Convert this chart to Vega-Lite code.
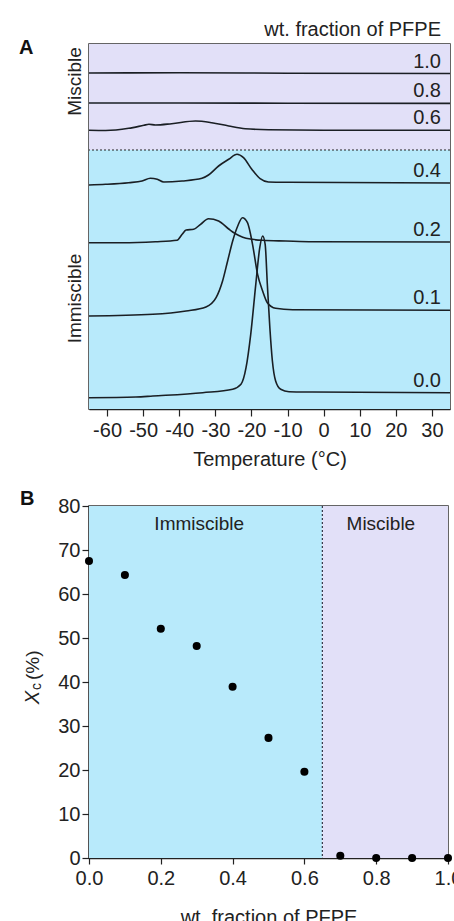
{
  "$schema": "https://vega.github.io/schema/vega-lite/v6.json",
  "background": "white",
  "padding": {"left": 18, "top": 18, "right": 0, "bottom": 0},
  "spacing": 97,
  "bounds": "flush",
  "config": {
    "font": "Liberation Sans",
    "view": {"stroke": "#333", "strokeWidth": 1.5},
    "axis": {
      "labelFont": "Liberation Sans", "labelFontSize": 20, "labelColor": "#222", "labelFlush": false,
      "titleFont": "Liberation Sans", "titleFontSize": 20, "titleFontWeight": "normal", "titleColor": "#222",
      "domainColor": "#222", "tickColor": "#222", "grid": false, "domainWidth": 1.5, "tickWidth": 1.2
    }
  },
  "datasets": {
    "dsc": [
      {"f": "1.0", "T": -65, "hf": 336}, {"f": "1.0", "T": -40, "hf": 336.2}, {"f": "1.0", "T": -10, "hf": 335.8}, {"f": "1.0", "T": 35, "hf": 335.5},
      {"f": "0.8", "T": -65, "hf": 306}, {"f": "0.8", "T": -40, "hf": 306}, {"f": "0.8", "T": -10, "hf": 305.8}, {"f": "0.8", "T": 35, "hf": 305.6},
      {"f": "0.6", "T": -65, "hf": 278.7}, {"f": "0.6", "T": -60.4, "hf": 278.5}, {"f": "0.6", "T": -54, "hf": 280.7}, {"f": "0.6", "T": -49.8, "hf": 283.7},
      {"f": "0.6", "T": -48.4, "hf": 284.7}, {"f": "0.6", "T": -46.6, "hf": 284}, {"f": "0.6", "T": -42.1, "hf": 285.3}, {"f": "0.6", "T": -35.5, "hf": 288},
      {"f": "0.6", "T": -31, "hf": 286.3}, {"f": "0.6", "T": -26.3, "hf": 283}, {"f": "0.6", "T": -21.7, "hf": 280.3}, {"f": "0.6", "T": -15.3, "hf": 279.3},
      {"f": "0.6", "T": 0, "hf": 278.8}, {"f": "0.6", "T": 35, "hf": 278.7},
      {"f": "0.4", "T": -65, "hf": 224}, {"f": "0.4", "T": -60.4, "hf": 224.7}, {"f": "0.4", "T": -54, "hf": 226.3}, {"f": "0.4", "T": -50.3, "hf": 228},
      {"f": "0.4", "T": -48, "hf": 230.7}, {"f": "0.4", "T": -46.1, "hf": 229.7}, {"f": "0.4", "T": -44.3, "hf": 227}, {"f": "0.4", "T": -39.2, "hf": 228},
      {"f": "0.4", "T": -33.7, "hf": 230.7}, {"f": "0.4", "T": -31.9, "hf": 234}, {"f": "0.4", "T": -29.1, "hf": 243}, {"f": "0.4", "T": -26.3, "hf": 249.7},
      {"f": "0.4", "T": -24, "hf": 254.7}, {"f": "0.4", "T": -22.2, "hf": 251.3}, {"f": "0.4", "T": -19.9, "hf": 239.7}, {"f": "0.4", "T": -17.6, "hf": 230.3},
      {"f": "0.4", "T": -15.3, "hf": 227}, {"f": "0.4", "T": -9.8, "hf": 226.7}, {"f": "0.4", "T": 35, "hf": 226},
      {"f": "0.2", "T": -65, "hf": 166.3}, {"f": "0.2", "T": -55.9, "hf": 166.3}, {"f": "0.2", "T": -46.6, "hf": 167.3}, {"f": "0.2", "T": -40.6, "hf": 168.7},
      {"f": "0.2", "T": -39.2, "hf": 174.7}, {"f": "0.2", "T": -38.1, "hf": 179}, {"f": "0.2", "T": -36, "hf": 179.7}, {"f": "0.2", "T": -34.1, "hf": 184.7},
      {"f": "0.2", "T": -31.9, "hf": 190.3}, {"f": "0.2", "T": -29.1, "hf": 188}, {"f": "0.2", "T": -26.3, "hf": 180}, {"f": "0.2", "T": -25.2, "hf": 177},
      {"f": "0.2", "T": -23.5, "hf": 173.5}, {"f": "0.2", "T": -21.5, "hf": 170.7}, {"f": "0.2", "T": -16.9, "hf": 168.7}, {"f": "0.2", "T": -10.5, "hf": 168},
      {"f": "0.2", "T": -3.1, "hf": 167.3}, {"f": "0.2", "T": 35, "hf": 167},
      {"f": "0.1", "T": -65, "hf": 93}, {"f": "0.1", "T": -47.3, "hf": 94.7}, {"f": "0.1", "T": -38.1, "hf": 98}, {"f": "0.1", "T": -32.6, "hf": 102},
      {"f": "0.1", "T": -29.8, "hf": 111.3}, {"f": "0.1", "T": -28, "hf": 128}, {"f": "0.1", "T": -26.6, "hf": 148}, {"f": "0.1", "T": -25.2, "hf": 168},
      {"f": "0.1", "T": -23.8, "hf": 183}, {"f": "0.1", "T": -22.5, "hf": 191.3}, {"f": "0.1", "T": -21.1, "hf": 186.3}, {"f": "0.1", "T": -19.7, "hf": 164.7},
      {"f": "0.1", "T": -18.3, "hf": 134.7}, {"f": "0.1", "T": -16.9, "hf": 118}, {"f": "0.1", "T": -15.6, "hf": 106.3}, {"f": "0.1", "T": -13.3, "hf": 100.7},
      {"f": "0.1", "T": -8.6, "hf": 99.3}, {"f": "0.1", "T": 35, "hf": 98.7},
      {"f": "0.0", "T": -65, "hf": 11.3}, {"f": "0.0", "T": -52, "hf": 12}, {"f": "0.0", "T": -47.3, "hf": 13}, {"f": "0.0", "T": -33.5, "hf": 16.3},
      {"f": "0.0", "T": -25.2, "hf": 19.7}, {"f": "0.0", "T": -22.9, "hf": 24.7}, {"f": "0.0", "T": -21.5, "hf": 41.3}, {"f": "0.0", "T": -20.2, "hf": 74.7},
      {"f": "0.0", "T": -18.8, "hf": 124.7}, {"f": "0.0", "T": -17.7, "hf": 161.3}, {"f": "0.0", "T": -16.9, "hf": 173}, {"f": "0.0", "T": -16.2, "hf": 164.7},
      {"f": "0.0", "T": -15.6, "hf": 124.7}, {"f": "0.0", "T": -14.9, "hf": 81.3}, {"f": "0.0", "T": -14.2, "hf": 48}, {"f": "0.0", "T": -13.3, "hf": 28},
      {"f": "0.0", "T": -11.9, "hf": 19.7}, {"f": "0.0", "T": -9.6, "hf": 17.3}, {"f": "0.0", "T": -3.1, "hf": 17}, {"f": "0.0", "T": 35, "hf": 16.3}
    ],
    "bandsA": [
      {"region": "Miscible", "y0": 259, "y1": 365},
      {"region": "Immiscible", "y0": 0, "y1": 259}
    ],
    "xc": [
      {"w": 0.0, "xc": 67.5}, {"w": 0.1, "xc": 64.3}, {"w": 0.2, "xc": 52.1}, {"w": 0.3, "xc": 48.2},
      {"w": 0.4, "xc": 38.9}, {"w": 0.5, "xc": 27.3}, {"w": 0.6, "xc": 19.6}, {"w": 0.7, "xc": 0.5},
      {"w": 0.8, "xc": 0}, {"w": 0.9, "xc": 0}, {"w": 1.0, "xc": 0}
    ],
    "bandsB": [
      {"region": "Immiscible", "x0": 0, "x1": 0.65, "lx": 0.307},
      {"region": "Miscible", "x0": 0.65, "x1": 1, "lx": 0.813}
    ]
  },
  "vconcat": [
    {
      "width": 361,
      "height": 365,
      "layer": [
        {
          "data": {"name": "bandsA"},
          "mark": {"type": "rect"},
          "encoding": {
            "y": {"field": "y0", "type": "quantitative", "scale": {"domain": [0, 365], "nice": false},
                  "axis": {"values": [328, 111], "labelExpr": "datum.value > 200 ? 'Miscible' : 'Immiscible'", "domain": false, "ticks": false, "tickSize": 0,
                           "labelAngle": 270, "labelAlign": "center", "labelBaseline": "alphabetic", "labelPadding": 9, "labelFontSize": 19, "title": null}},
            "y2": {"field": "y1"},
            "color": {"field": "region", "type": "nominal", "scale": {"domain": ["Miscible", "Immiscible"], "range": ["#E2E0F8", "#B8EAFB"]}, "legend": null}
          }
        },
        {
          "data": {"name": "bandsA"},
          "transform": [{"filter": "datum.region == 'Immiscible'"}],
          "mark": {"type": "rule", "strokeDash": [2, 2], "color": "#222", "strokeWidth": 1.2},
          "encoding": {"y": {"field": "y1", "type": "quantitative"}}
        },
        {
          "data": {"name": "dsc"},
          "mark": {"type": "line", "interpolate": "monotone", "color": "#1a1f24", "strokeWidth": 1.6},
          "encoding": {
            "x": {"field": "T", "type": "quantitative", "scale": {"domain": [-65, 35], "nice": false},
                  "axis": {"values": [-60, -50, -40, -30, -20, -10, 0, 10, 20, 30], "labelExpr": "datum.value < 0 ? '-' + abs(datum.value) : '' + datum.value",
                           "tickSize": 7, "labelPadding": 4, "title": "Temperature (°C)", "titlePadding": 9}},
            "y": {"field": "hf", "type": "quantitative"},
            "detail": {"field": "f"}
          }
        },
        {
          "data": {"name": "dsc"},
          "transform": [{"filter": "datum.T == 35"}],
          "mark": {"type": "text", "align": "right", "baseline": "middle", "dx": -9, "dy": -12, "fontSize": 20, "color": "#222"},
          "encoding": {
            "x": {"field": "T", "type": "quantitative"},
            "y": {"field": "hf", "type": "quantitative"},
            "text": {"field": "f"}
          }
        },
        {
          "data": {"name": "bandsA"},
          "transform": [{"filter": "datum.region == 'Miscible'"}],
          "mark": {"type": "text", "text": "A", "align": "left", "baseline": "alphabetic", "dx": -70, "dy": 10, "fontSize": 20, "fontWeight": "bold", "color": "#111"},
          "encoding": {"x": {"datum": -65}, "y": {"field": "y1", "type": "quantitative"}}
        },
        {
          "data": {"name": "bandsA"},
          "transform": [{"filter": "datum.region == 'Miscible'"}],
          "mark": {"type": "text", "text": "wt. fraction of PFPE", "align": "right", "baseline": "alphabetic", "dx": -9, "dy": -8.5, "fontSize": 20, "color": "#222"},
          "encoding": {"x": {"datum": 35}, "y": {"field": "y1", "type": "quantitative"}}
        }
      ]
    },
    {
      "width": 359,
      "height": 352,
      "layer": [
        {
          "data": {"name": "bandsB"},
          "mark": {"type": "rect"},
          "encoding": {
            "x": {"field": "x0", "type": "quantitative", "scale": {"domain": [0, 1], "nice": false},
                  "axis": {"values": [0, 0.1, 0.2, 0.3, 0.4, 0.5, 0.6, 0.7, 0.8, 0.9, 1.0], "format": ".1f",
                           "labelExpr": "round(datum.value * 10) % 2 == 0 ? datum.label : ''", "tickSize": 6, "labelPadding": 4,
                           "title": "wt. fraction of PFPE", "titlePadding": 19}},
            "x2": {"field": "x1"},
            "color": {"field": "region", "type": "nominal", "legend": null}
          }
        },
        {
          "data": {"name": "bandsB"},
          "transform": [{"filter": "datum.region == 'Miscible'"}],
          "mark": {"type": "rule", "strokeDash": [2, 2], "color": "#334", "strokeWidth": 1.2},
          "encoding": {"x": {"field": "x0", "type": "quantitative"}}
        },
        {
          "data": {"name": "xc"},
          "mark": {"type": "circle", "color": "#000", "opacity": 1, "size": 65},
          "encoding": {
            "x": {"field": "w", "type": "quantitative"},
            "y": {"field": "xc", "type": "quantitative", "scale": {"domain": [0, 80], "nice": false},
                  "axis": {"values": [0, 10, 20, 30, 40, 50, 60, 70, 80], "tickSize": 7, "labelPadding": 2, "title": null}}
          }
        },
        {
          "data": {"name": "bandsB"},
          "mark": {"type": "text", "baseline": "middle", "align": "center", "dy": 18, "fontSize": 19, "color": "#222"},
          "encoding": {
            "x": {"field": "lx", "type": "quantitative"},
            "y": {"datum": 80},
            "text": {"field": "region"}
          }
        },
        {
          "data": {"name": "bandsB"},
          "transform": [{"filter": "datum.region == 'Immiscible'"}],
          "mark": {"type": "text", "text": "B", "align": "left", "baseline": "alphabetic", "dx": -69, "dy": -1, "fontSize": 20, "fontWeight": "bold", "color": "#111"},
          "encoding": {"x": {"field": "x0", "type": "quantitative"}, "y": {"datum": 80}}
        },
        {
          "data": {"name": "bandsB"},
          "transform": [{"filter": "datum.region == 'Immiscible'"}],
          "mark": {"type": "text", "text": "X", "angle": 270, "align": "right", "baseline": "alphabetic", "dx": -9, "dy": -50, "fontSize": 20, "fontStyle": "italic", "color": "#222"},
          "encoding": {"x": {"field": "x0", "type": "quantitative"}, "y": {"datum": 40}}
        },
        {
          "data": {"name": "bandsB"},
          "transform": [{"filter": "datum.region == 'Immiscible'"}],
          "mark": {"type": "text", "text": "c", "angle": 270, "align": "left", "baseline": "alphabetic", "dx": -8, "dy": -48, "fontSize": 14, "color": "#222"},
          "encoding": {"x": {"field": "x0", "type": "quantitative"}, "y": {"datum": 40}}
        },
        {
          "data": {"name": "bandsB"},
          "transform": [{"filter": "datum.region == 'Immiscible'"}],
          "mark": {"type": "text", "text": "(%)", "angle": 270, "align": "left", "baseline": "alphabetic", "dx": 2, "dy": -50, "fontSize": 19, "color": "#222"},
          "encoding": {"x": {"field": "x0", "type": "quantitative"}, "y": {"datum": 40}}
        }
      ]
    }
  ]
}
